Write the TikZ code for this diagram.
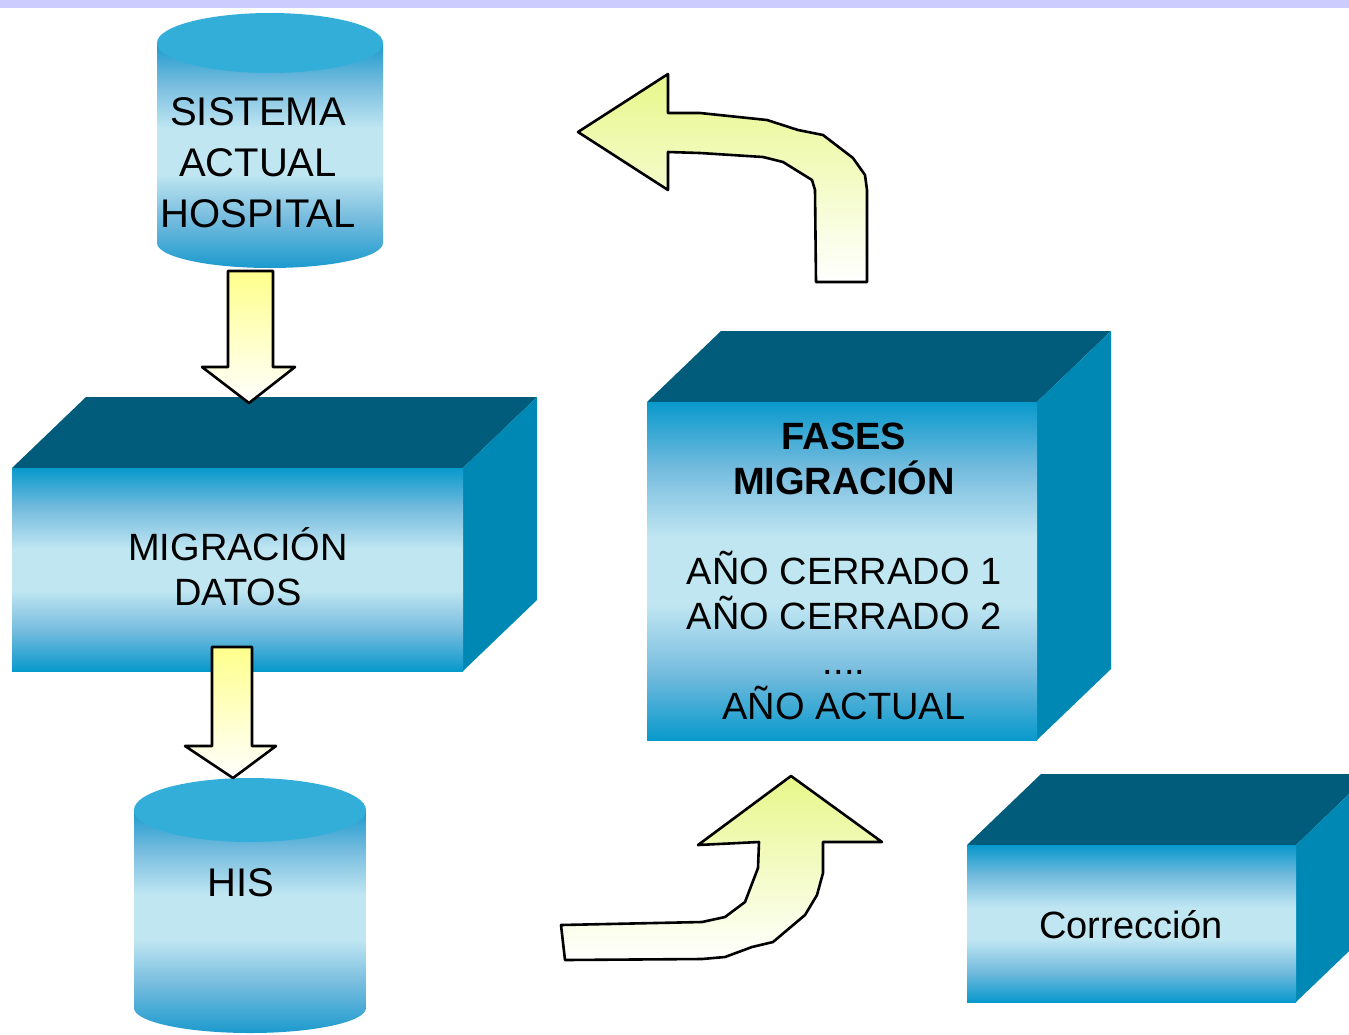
\documentclass[tikz,border=0pt]{standalone}
\usepackage{fontspec}
\setmainfont{Liberation Sans}

\definecolor{bandalila}{RGB}{204,204,255}
\definecolor{cubotop}{RGB}{0,92,122}
\definecolor{cuboside}{RGB}{0,136,181}
\definecolor{cuboedge}{RGB}{8,153,204}
\definecolor{cubohalf}{RGB}{118,188,222}
\definecolor{cubomid}{RGB}{192,230,242}
\definecolor{cyltop}{RGB}{51,174,216}
\definecolor{cyledge}{RGB}{28,154,206}
\definecolor{flechaam}{RGB}{255,255,140}
\definecolor{flechaver}{RGB}{232,247,138}

% front faces: dark edge, light band in the middle
\pgfdeclareverticalshading{frente}{100bp}{color(0bp)=(cuboedge); color(25bp)=(cuboedge);
  color(35bp)=(cubohalf); color(45bp)=(cubomid); color(55bp)=(cubomid);
  color(65bp)=(cubohalf); color(75bp)=(cuboedge); color(100bp)=(cuboedge)}
\pgfdeclareverticalshading{cilindro}{100bp}{color(0bp)=(cyledge); color(25bp)=(cyledge);
  color(36bp)=(cubohalf); color(46bp)=(cubomid); color(56bp)=(cubomid);
  color(66bp)=(cubohalf); color(75bp)=(cyledge); color(100bp)=(cyledge)}

\begin{document}
\begin{tikzpicture}[x=0.5pt,y=-0.5pt,
    flecha/.style={draw=black,line width=1.3pt,line join=round,top color=flechaam,bottom color=white},
    flechacurva/.style={flecha,top color=flechaver},
    rotulo/.style={font=\fontsize{19}{22.5}\selectfont,align=center,inner sep=0pt},
    rotulocil/.style={font=\fontsize{20}{25.5}\selectfont,align=center,inner sep=0pt}]
  \def\dx{74}   % depth of the boxes, x
  \def\dy{71}   % depth of the boxes, y
  \useasboundingbox (0,0) rectangle (1349,1034);
  \clip (0,0) rectangle (1349,1034);

  % band along the top edge
  \fill[bandalila] (0,0) rectangle (1349,8);

  % cylinders: body, then lid
  \foreach \cx/\rx/\ty/\by/\ry in {270/113/43/243/30, 250/116/810/1008/32}{
    \shade[shading=cilindro] (\cx-\rx,\ty) -- (\cx-\rx,\by)
      arc[start angle=180,end angle=0,x radius=\rx,y radius=25] -- (\cx+\rx,\ty) -- cycle;
    \fill[cyltop] (\cx,\ty) ellipse[x radius=\rx,y radius=\ry];
  }

  % boxes: top, side, front
  \foreach \xa/\ya/\xb/\yb in {12/468/463/671, 647/402/1037/740, 967/845/1296/1002}{
    \fill[cubotop] (\xa,\ya) -- (\xa+\dx,\ya-\dy) -- (\xb+\dx,\ya-\dy) -- (\xb,\ya) -- cycle;
    \fill[cuboside] (\xb,\ya) -- (\xb+\dx,\ya-\dy) -- (\xb+\dx,\yb-\dy) -- (\xb,\yb) -- cycle;
    \shade[shading=frente] (\xa,\ya) rectangle (\xb,\yb);
  }

  % labels
  \node[rotulocil] (sistema) at (258,163) {SISTEMA\\ACTUAL\\HOSPITAL};
  \node[rotulocil,anchor=base] (his) at (241,896) {HIS};
  \node[rotulo] (migracion) at (238,567) {MIGRACIÓN\\DATOS};
  \node[rotulo] (fases) at (844,571) {\textbf{FASES}\\\textbf{MIGRACIÓN}\\[22.5pt]AÑO CERRADO 1\\AÑO CERRADO 2\\....\\AÑO ACTUAL};
  \node[rotulo,anchor=base] (correccion) at (1131,938) {Corrección};

  % straight block arrows
  \draw[flecha] (228,271) -- (273,271) -- (273,367) -- (295,367) -- (249,403) -- (202,367) -- (228,367) -- cycle;
  \draw[flecha] (212,647) -- (252,647) -- (252,746) -- (276,746) -- (233,778) -- (185,746) -- (212,746) -- cycle;

  % bent block arrows
  \draw[flechacurva] (578,132) -- (668,74) -- (668,113) -- (700,113) -- (767,120) -- (798,130) -- (823,135)
    -- (853,158) -- (865,175) -- (867,190) -- (867,282) -- (816,282) -- (815,190) -- (812,180)
    -- (783,162) -- (763,157) -- (700,153) -- (668,152) -- (668,190) -- cycle;
  \draw[flechacurva] (791,776) -- (882,842) -- (823,842) -- (823,873) -- (817,895) -- (805,915) -- (773,942)
    -- (752,947) -- (725,957) -- (702,959) -- (565,960) -- (561,925) -- (702,922) -- (725,917)
    -- (745,902) -- (758,868) -- (759,842) -- (698,845) -- cycle;
\end{tikzpicture}
\end{document}
